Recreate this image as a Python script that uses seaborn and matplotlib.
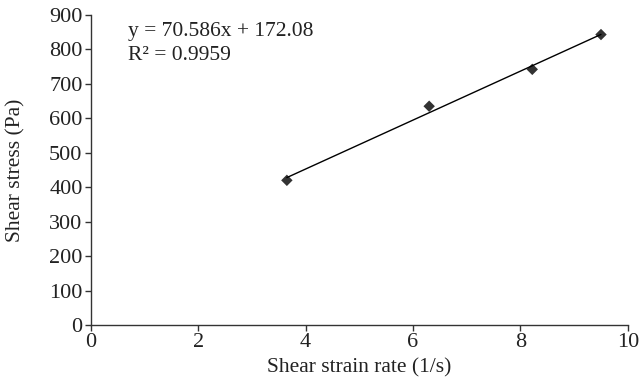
import numpy as np
import matplotlib
matplotlib.use("Agg")
import matplotlib.pyplot as plt
import seaborn as sns

# data
strain_rate = [3.65, 6.3, 8.22, 9.5]
shear_stress = [420, 635, 742, 843]
x_ticks = [0, 2, 4, 6, 8, 10]
y_ticks = [0, 100, 200, 300, 400, 500, 600, 700, 800, 900]

sns.set_style("ticks")
plt.rcParams['font.family'] = ['Liberation Serif', 'DejaVu Serif']
plt.rcParams['font.size'] = 15.5

fig = plt.figure(figsize=(6.4, 3.82), dpi=100)
ax = fig.add_axes([0.142, 0.149, 0.839, 0.812])

sns.regplot(x=strain_rate, y=shear_stress, ax=ax, ci=None, marker='D',
            color='black', scatter_kws={'s': 34, 'edgecolor': 'none'},
            line_kws={'linewidth': 1})

ax.set_xlim(0, 10)
ax.set_ylim(0, 900)
ax.set_xticks(x_ticks)
ax.set_yticks(y_ticks)
ax.set_xlabel("Shear strain rate (1/s)", labelpad=4, fontsize=15.5, color='#222222')
ax.set_ylabel("Shear stress (Pa)", labelpad=17, fontsize=15.5, color='#222222')
ax.tick_params(direction='out', length=4, width=1, colors='#333333',
               labelcolor='#222222', labelsize=16, pad=2)
for s in ['left', 'bottom']:
    ax.spines[s].set_color('#333333')
    ax.spines[s].set_linewidth(1)
sns.despine(ax=ax)

ax.text(0.69, 851, "y = 70.586x + 172.08", va='center', ha='left', fontsize=15.5, color='#222222')
ax.text(0.69, 782, "R² = 0.9959", va='center', ha='left', fontsize=15.5, color='#222222')

fig.savefig("out.png", dpi=100)
